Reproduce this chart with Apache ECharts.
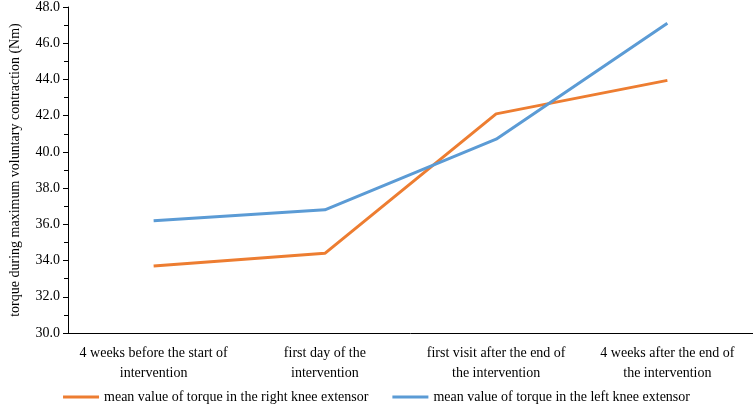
<!DOCTYPE html><html><head><meta charset="utf-8"><script src="https://cdn.jsdelivr.net/npm/echarts@6/dist/echarts.min.js"></script>
<style>body{margin:0}#c{width:753px;height:411px}</style></head><body><div id="c"></div><script>
const categories=["4 weeks before the start of\nintervention","first day of the\nintervention","first visit after the end of\nthe intervention","4 weeks after the end of\nthe intervention"];
const rightKnee=[33.7,34.4,42.1,43.95];
const leftKnee=[36.2,36.8,40.7,47.1];
const F='Liberation Serif';
const c=echarts.init(document.getElementById('c'));
c.setOption({
 textStyle:{fontFamily:F},
 grid:{left:58,right:0,top:5,bottom:78},
 legend:{bottom:2,left:'center',itemWidth:36,itemHeight:3,itemGap:24,icon:'rect',textStyle:{fontFamily:F,fontSize:14,color:'#000'},
  data:['mean value of torque in the right knee extensor','mean value of torque in the left knee extensor']},
 xAxis:{type:'category',data:categories,boundaryGap:true,axisLine:{lineStyle:{color:'#000'}},axisTick:{show:false},
  axisLabel:{color:'#000',fontSize:14,fontFamily:F,lineHeight:20,margin:10,interval:0}},
 yAxis:{type:'value',min:30,max:48,interval:2,name:'torque during maximum voluntary contraction (Nm)',nameLocation:'middle',nameGap:46,
  nameTextStyle:{color:'#000',fontSize:14,fontFamily:F},
  axisLine:{show:true,lineStyle:{color:'#000'}},axisTick:{show:true,inside:false,length:5},minorTick:{show:true,splitNumber:2,length:4,lineStyle:{color:'#000'}},
  splitLine:{show:false},axisLabel:{color:'#000',fontSize:14,fontFamily:F,formatter:v=>v.toFixed(1)}},
 series:[
  {name:'mean value of torque in the right knee extensor',type:'line',data:rightKnee,symbol:'none',lineStyle:{width:3,color:'#ED7D31'},itemStyle:{color:'#ED7D31'}},
  {name:'mean value of torque in the left knee extensor',type:'line',data:leftKnee,symbol:'none',lineStyle:{width:3,color:'#5B9BD5'},itemStyle:{color:'#5B9BD5'}}
 ]
});
</script></body></html>
